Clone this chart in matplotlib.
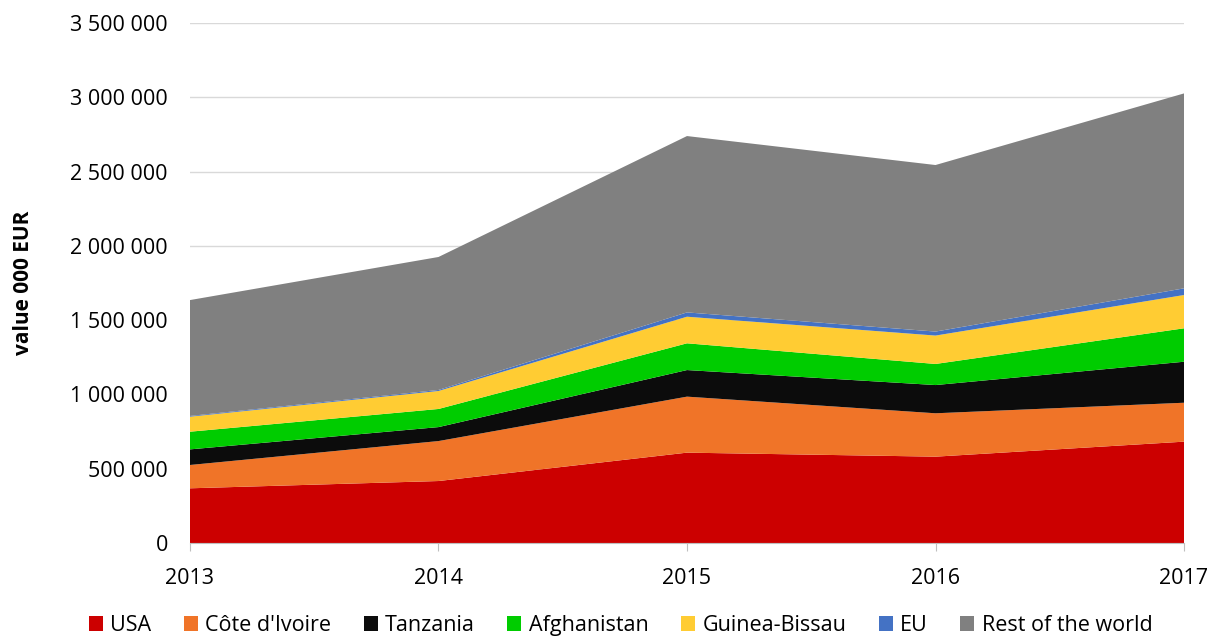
import matplotlib.pyplot as plt
from matplotlib.ticker import FuncFormatter

years = [2013, 2014, 2015, 2016, 2017]

usa = [368000, 417000, 608000, 581000, 682000]
cote_ivoire = [157000, 269000, 377000, 292000, 262000]
tanzania = [105000, 94000, 179000, 190000, 276000]
afghanistan = [119000, 122000, 180000, 142000, 225000]
guinea_bissau = [101000, 121000, 179000, 191000, 224000]
eu = [5000, 7000, 29000, 27000, 45000]
rest = [780000, 895000, 1187000, 1121000, 1312000]

labels = ["USA", "Côte d'Ivoire", "Tanzania", "Afghanistan",
          "Guinea-Bissau", "EU", "Rest of the world"]
colors = ["#cc0000", "#f07428", "#0c0c0c", "#00cc00",
          "#ffcc33", "#4472c4", "#808080"]

plt.rcParams['font.family'] = ['Open Sans', 'DejaVu Sans']

fig = plt.figure(figsize=(12.17, 6.37), dpi=100)
ax = fig.add_axes([0.1561, 0.1476, 0.8168, 0.8163])

ax.stackplot(years, usa, cote_ivoire, tanzania, afghanistan,
             guinea_bissau, eu, rest, labels=labels, colors=colors,
             linewidth=0, zorder=2)

ax.set_xlim(2013, 2017)
ax.set_ylim(0, 3500000)
ax.set_xticks(years)
ax.set_yticks(range(0, 3500001, 500000))
ax.yaxis.set_major_formatter(FuncFormatter(lambda v, p: f"{int(v):,}".replace(",", " ")))

ax.grid(axis='y', color='#d9d9d9', linewidth=1, zorder=0)
ax.set_axisbelow(True)
for s in ['top', 'right', 'left']:
    ax.spines[s].set_visible(False)
ax.spines['bottom'].set_color('#bfbfbf')
ax.spines['bottom'].set_zorder(3)

ax.tick_params(axis='y', length=0, pad=16, labelsize=15.5)
ax.tick_params(axis='x', length=6, color='#bfbfbf', pad=12, labelsize=15.5)

ax.set_ylabel("value 000 EUR", fontsize=15, fontweight='bold', labelpad=26)

fig.legend(loc='lower center', bbox_to_anchor=(0.51, -0.029), ncol=7,
           frameon=False, fontsize=15.5, handlelength=0.65, handleheight=0.65,
           handletextpad=0.35, columnspacing=1.5)

fig.savefig("out.png", dpi=100)
